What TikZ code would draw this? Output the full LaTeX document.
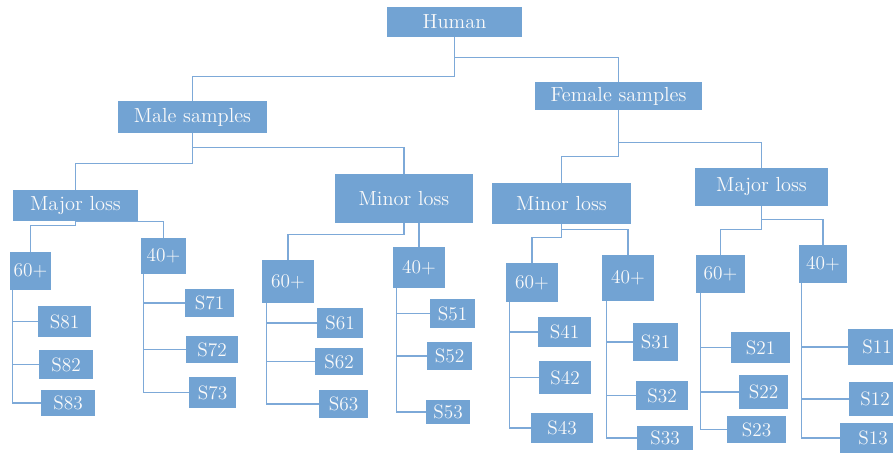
\documentclass[tikz,border=0pt]{standalone}
\usepackage{tikz}
\usepackage{xcolor}
\definecolor{boxblue}{HTML}{72A3D3}
\definecolor{lineblue}{HTML}{7DA9D8}
\pgfdeclarelayer{bg}
\pgfsetlayers{bg,main}
\tikzstyle{group} = [rectangle, inner sep=0pt, text centered, fill=boxblue, text=white!96!gray, font=\fontsize{11.6}{13}\selectfont]
\tikzstyle{age} = [rectangle, inner sep=0pt, text centered, fill=boxblue, text=white!96!gray, font=\fontsize{11}{12}\selectfont]
\tikzstyle{leaf} = [rectangle, inner sep=0pt, text centered, fill=boxblue, text=white!96!gray, font=\fontsize{11}{12}\selectfont]
\tikzstyle{link} = [draw=lineblue, line width=0.9pt]

\begin{document}
\begin{tikzpicture}[x=0.02cm, y=-0.02cm]
            \useasboundingbox (0,0) rectangle (893,453);
            % top levels
            \node (human) [group, minimum width=2.70cm, minimum height=0.60cm] at (454.5,22) {Human};
            \node (male) [group, minimum width=2.98cm, minimum height=0.64cm] at (192.5,117) {Male samples};
            \node (female) [group, minimum width=3.34cm, minimum height=0.56cm] at (618.5,96) {Female samples};
            \node (majM) [group, minimum width=2.50cm, minimum height=0.62cm] at (75.5,205.5) {Major loss};
            \node (minM) [group, minimum width=2.76cm, minimum height=0.98cm] at (404,198.5) {Minor loss};
            \node (minF) [group, minimum width=2.78cm, minimum height=0.82cm] at (561.5,203.5) {Minor loss};
            \node (majF) [group, minimum width=2.66cm, minimum height=0.76cm] at (761.5,187) {Major loss};
            % age groups
            \node (m60maj) [age, minimum width=0.82cm, minimum height=0.76cm] at (30.5,271) {60+};
            \node (m40maj) [age, minimum width=0.90cm, minimum height=0.72cm] at (163.5,256) {40+};
            \node (m60min) [age, minimum width=1.04cm, minimum height=0.86cm] at (288,281.5) {60+};
            \node (m40min) [age, minimum width=1.04cm, minimum height=0.82cm] at (419,267.5) {40+};
            \node (f60min) [age, minimum width=1.04cm, minimum height=0.78cm] at (532,282.5) {60+};
            \node (f40min) [age, minimum width=1.04cm, minimum height=0.92cm] at (628,278) {40+};
            \node (f60maj) [age, minimum width=0.98cm, minimum height=0.76cm] at (720.5,274) {60+};
            \node (f40maj) [age, minimum width=0.96cm, minimum height=0.76cm] at (823,264) {40+};
            % samples
            \node (s81) [leaf, minimum width=1.06cm, minimum height=0.62cm] at (64.5,321.5) {S81};
            \node (s82) [leaf, minimum width=1.08cm, minimum height=0.58cm] at (66,364.5) {S82};
            \node (s83) [leaf, minimum width=1.08cm, minimum height=0.52cm] at (68,403) {S83};
            \node (s71) [leaf, minimum width=0.98cm, minimum height=0.56cm] at (209.5,303) {S71};
            \node (s72) [leaf, minimum width=1.04cm, minimum height=0.54cm] at (212,349.5) {S72};
            \node (s73) [leaf, minimum width=0.94cm, minimum height=0.62cm] at (212.5,392.5) {S73};
            \node (s61) [leaf, minimum width=0.92cm, minimum height=0.60cm] at (340,323) {S61};
            \node (s62) [leaf, minimum width=0.96cm, minimum height=0.54cm] at (339,361.5) {S62};
            \node (s63) [leaf, minimum width=0.98cm, minimum height=0.56cm] at (343.5,404) {S63};
            \node (s51) [leaf, minimum width=0.90cm, minimum height=0.58cm] at (452.5,313.5) {S51};
            \node (s52) [leaf, minimum width=0.90cm, minimum height=0.56cm] at (449.5,356) {S52};
            \node (s53) [leaf, minimum width=0.88cm, minimum height=0.48cm] at (448,412) {S53};
            \node (s41) [leaf, minimum width=1.06cm, minimum height=0.60cm] at (564.5,332) {S41};
            \node (s42) [leaf, minimum width=1.04cm, minimum height=0.66cm] at (565,377.5) {S42};
            \node (s43) [leaf, minimum width=1.24cm, minimum height=0.60cm] at (562,428) {S43};
            \node (s31) [leaf, minimum width=0.90cm, minimum height=0.76cm] at (655.5,342) {S31};
            \node (s32) [leaf, minimum width=1.04cm, minimum height=0.58cm] at (662,395.5) {S32};
            \node (s33) [leaf, minimum width=1.12cm, minimum height=0.48cm] at (665,438) {S33};
            \node (s21) [leaf, minimum width=1.18cm, minimum height=0.62cm] at (760.5,347.5) {S21};
            \node (s22) [leaf, minimum width=0.98cm, minimum height=0.68cm] at (763.5,392) {S22};
            \node (s23) [leaf, minimum width=1.18cm, minimum height=0.54cm] at (756.5,429.5) {S23};
            \node (s11) [leaf, minimum width=1.16cm, minimum height=0.72cm] at (877,347) {S11};
            \node (s12) [leaf, minimum width=1.04cm, minimum height=0.68cm] at (875,399) {S12};
            \node (s13) [leaf, minimum width=1.32cm, minimum height=0.60cm] at (873,438) {S13};

            \begin{pgfonlayer}{bg}
            % tree links
            \draw[link] (human.south) -- ++(0,39) -| (male.north);
            \draw[link] (human.south) ++(0,20) -| (female.north);
            \draw[link] (male.south) -- ++(0,30) -| (majM.north);
            \draw[link] (male.south) ++(0,14) -| (minM.north);
            \draw[link] (female.south) -- ++(0,46) -| (minF.north);
            \draw[link] (female.south) ++(0,32) -| (majF.north);
            \draw[link] (majM.south) -- ++(0,4) -| (m60maj.north);
            \draw[link] (majM.south) -| (m40maj.north);
            \draw[link] (minM.south) -- ++(0,11) -| (m60min.north);
            \draw[link] (minM.south -| m40min.north) -- (m40min.north);
            \draw[link] (minF.south) -- ++(0,13) -| (f60min.north);
            \draw[link] (minF.south) ++(0,5) -| (f40min.north);
            \draw[link] (majF.south) -- ++(0,23) -| (f60maj.north);
            \draw[link] (majF.south) ++(0,13) -| (f40maj.north);
            % sample brackets
            \draw[link] ([xshift=0.06cm]m60maj.south west) |- (s81.west) ([xshift=0.06cm]m60maj.south west) |- (s82.west) ([xshift=0.06cm]m60maj.south west) |- (s83.west);
            \draw[link] ([xshift=0.06cm]m40maj.south west) |- (s71.west) ([xshift=0.06cm]m40maj.south west) |- (s72.west) ([xshift=0.06cm]m40maj.south west) |- (s73.west);
            \draw[link] ([xshift=0.10cm]m60min.south west) |- (s61.west) ([xshift=0.10cm]m60min.south west) |- (s62.west) ([xshift=0.10cm]m60min.south west) |- (s63.west);
            \draw[link] ([xshift=0.08cm]m40min.south west) |- (s51.west) ([xshift=0.08cm]m40min.south west) |- (s52.west) ([xshift=0.08cm]m40min.south west) |- (s53.west);
            \draw[link] ([xshift=0.08cm]f60min.south west) |- (s41.west) ([xshift=0.08cm]f60min.south west) |- (s42.west) ([xshift=0.08cm]f60min.south west) |- (s43.west);
            \draw[link] ([xshift=0.10cm]f40min.south west) |- (s31.west) ([xshift=0.10cm]f40min.south west) |- (s32.west) ([xshift=0.10cm]f40min.south west) |- (s33.west);
            \draw[link] ([xshift=0.10cm]f60maj.south west) |- (s21.west) ([xshift=0.10cm]f60maj.south west) |- (s22.west) ([xshift=0.10cm]f60maj.south west) |- (s23.west);
            \draw[link] ([xshift=0.06cm]f40maj.south west) |- (s11.west) ([xshift=0.06cm]f40maj.south west) |- (s12.west) ([xshift=0.06cm]f40maj.south west) |- (s13.west);
            \end{pgfonlayer}
        \end{tikzpicture}
\end{document}
